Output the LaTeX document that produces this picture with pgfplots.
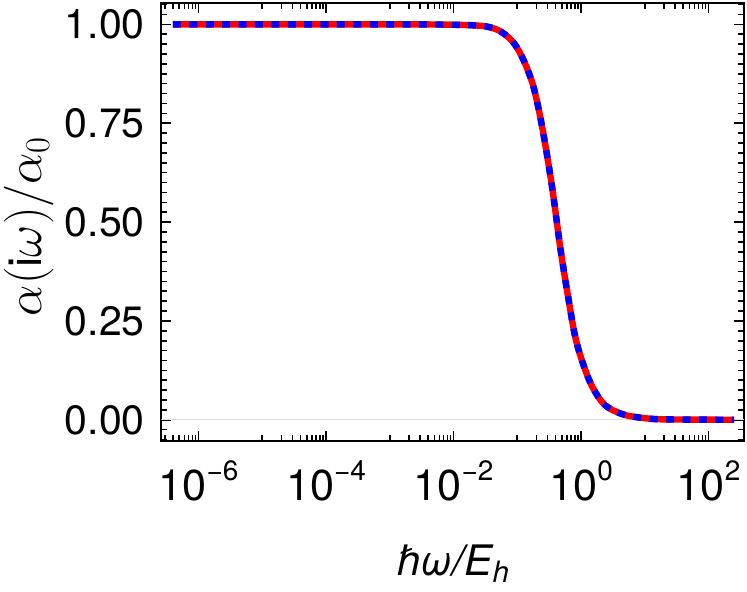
\documentclass[border=0pt]{standalone}
\usepackage{pgfplots}
\pgfplotsset{compat=1.18}
\usepackage{fontspec}
\setmainfont{TeX Gyre Heros}

\newcommand{\xtl}[1]{10\raisebox{10pt}{\fontsize{14}{14}\selectfont −#1}}
\newcommand{\xtlp}[1]{10\raisebox{10pt}{\fontsize{14}{14}\selectfont #1}}

\begin{document}
\begin{tikzpicture}
\useasboundingbox (-80.75pt,-75.5pt) rectangle (292.75pt,220.5pt);
\begin{axis}[
    at={(0,0)}, anchor=south west,
    scale only axis,
    width=291.25pt, height=219pt,
    xmode=log,
    xmin=2.63e-7, xmax=360,
    ymin=-0.0536, ymax=1.054,
    axis line style={line width=1pt},
    every tick/.style={black, line width=0.8pt},
    major tick length=5pt,
    minor tick length=2.8pt,
    xtick={1e-6,1e-4,1e-2,1,100},
    xticklabels={\xtl{6},\xtl{4},\xtl{2},\xtlp{0},\xtlp{2}},
    minor xtick={1e-7,2e-7,3e-7,4e-7,5e-7,6e-7,7e-7,8e-7,9e-7,
                 1e-5,2e-5,3e-5,4e-5,5e-5,6e-5,7e-5,8e-5,9e-5,
                 1e-3,2e-3,3e-3,4e-3,5e-3,6e-3,7e-3,8e-3,9e-3,
                 0.1,0.2,0.3,0.4,0.5,0.6,0.7,0.8,0.9,
                 10,20,30,40,50,60,70,80,90},
    xticklabel style={font=\fontsize{21.6}{24}\selectfont, inner sep=0pt, anchor=north, yshift=-9.5pt},
    ytick={0,0.25,0.5,0.75,1},
    yticklabels={0.00,0.25,0.50,0.75,1.00},
    minor ytick={-0.05,-0.025,0.025,0.05,0.075,0.1,0.125,0.15,0.175,0.2,0.225,
                 0.275,0.3,0.325,0.35,0.375,0.4,0.425,0.45,0.475,
                 0.525,0.55,0.575,0.6,0.625,0.65,0.675,0.7,0.725,
                 0.775,0.8,0.825,0.85,0.875,0.9,0.925,0.95,0.975,1.025,1.05},
    yticklabel style={font=\fontsize{20.5}{24}\selectfont, inner sep=0pt, anchor=east, xshift=-8.25pt},
    xlabel={\itshape ħω/E\textsubscript{h}},
    xlabel style={font=\fontsize{21}{24}\selectfont, at={(axis description cs:0.5,0)}, anchor=base, yshift=-67pt},
    ylabel={$\alpha(\mathrm{i}\omega)/\alpha_0$},
    ylabel style={font=\fontsize{23}{26}\selectfont, at={(axis description cs:-0.227,0.49)}, anchor=center},
]
\addplot[gray!25, line width=0.5pt] coordinates {(2.63e-7,0) (360,0)};
\pgfplotstableread{
x y
3.98e-7 1.000
1e-3 1.000
1e-2 0.999
0.0316 0.995
0.0562 0.981
0.0891 0.952
0.126 0.909
0.174 0.850
0.219 0.782
0.263 0.714
0.316 0.637
0.372 0.561
0.479 0.429
0.617 0.318
0.794 0.217
1.0 0.157
1.445 0.089
2.344 0.038
4.786 0.0126
12.59 0.0025
31.6 0.0008
251 0.0001
}\curve
\addplot[red, line width=3.2pt, smooth] table {\curve};
\addplot[blue, line width=3.2pt, dash pattern=on 4pt off 4.2pt, smooth] table {\curve};
\end{axis}
\end{tikzpicture}
\end{document}
